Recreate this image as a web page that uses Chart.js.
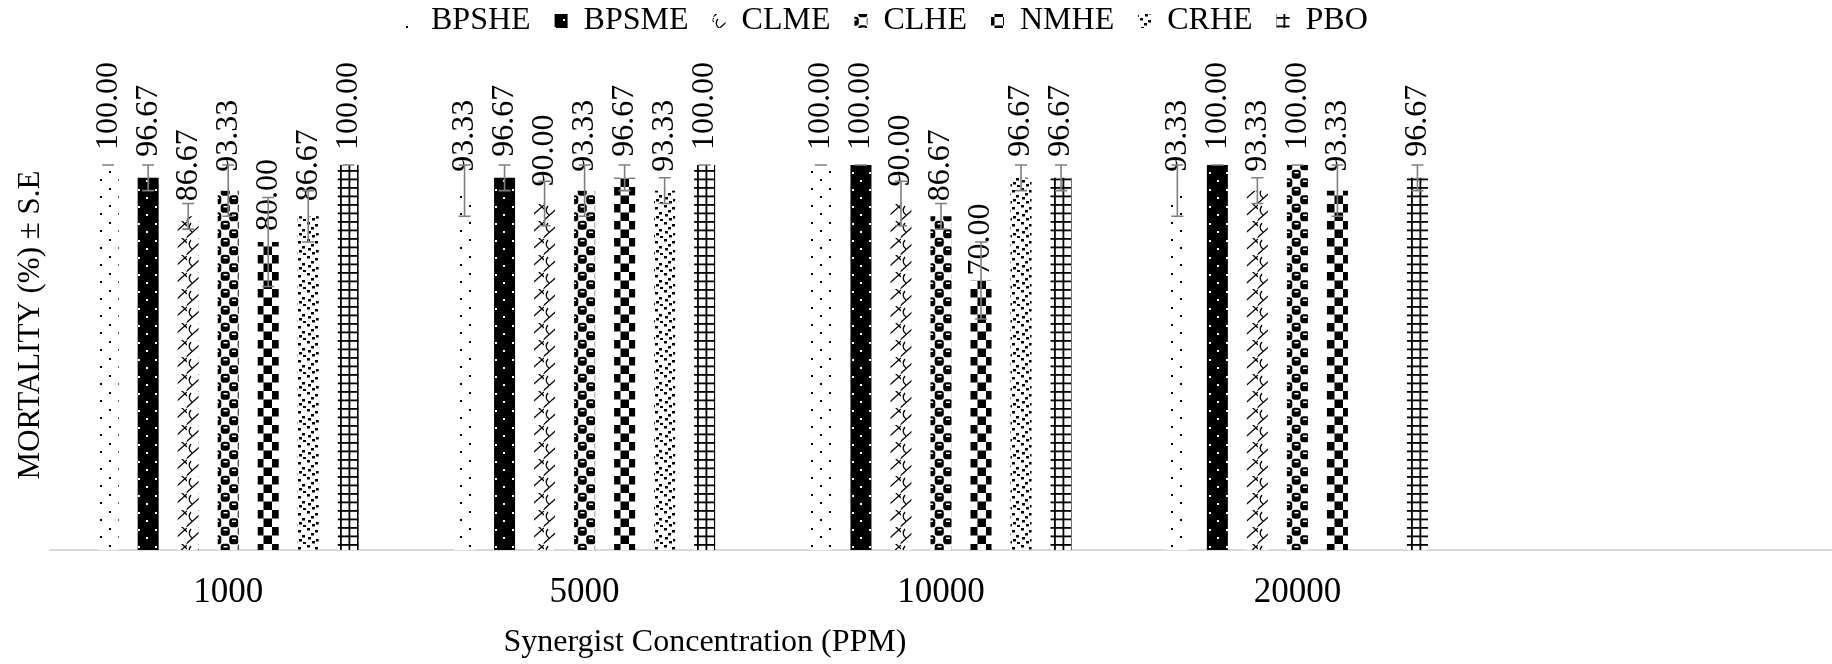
<!DOCTYPE html>
<html>
<head>
<meta charset="utf-8">
<title>Mortality by synergist concentration</title>
<script src="https://cdn.jsdelivr.net/npm/chart.js@4.4.1/dist/chart.umd.min.js"></script>
<style>
  html, body { margin: 0; padding: 0; background: #fff; }
  #wrap { position: relative; width: 1832px; height: 664px; }
</style>
</head>
<body>
<div id="wrap"><canvas id="chart" width="1832" height="664"></canvas></div>
<script>
// ---- data ----
const concentrations = ['1000', '5000', '10000', '20000', ''];
const seriesNames = ['BPSHE', 'BPSME', 'CLME', 'CLHE', 'NMHE', 'CRHE', 'PBO'];

// mean mortality (%)
const BPSHE = [100.00, 93.33, 100.00, 93.33, null];
const BPSME = [96.67, 96.67, 100.00, 100.00, null];
const CLME  = [86.67, 90.00, 90.00, 93.33, null];
const CLHE  = [93.33, 93.33, 86.67, 100.00, null];
const NMHE  = [80.00, 96.67, 70.00, 93.33, null];
const CRHE  = [86.67, 93.33, 96.67, null, null];
const PBO   = [100.00, 100.00, 96.67, 96.67, null];

// standard error of each mean
const BPSHE_SE = [0, 6.67, 0, 6.67, null];
const BPSME_SE = [3.33, 3.33, 0, 0, null];
const CLME_SE  = [3.33, 5.77, 5.77, 3.33, null];
const CLHE_SE  = [6.67, 6.67, 3.33, 0, null];
const NMHE_SE  = [11.55, 3.33, 10.00, 6.67, null];
const CRHE_SE  = [6.67, 3.33, 3.33, null, null];
const PBO_SE   = [0, 0, 3.33, 3.33, null];

const xTitle = 'Synergist Concentration (PPM)';
const yTitle = 'MORTALITY (%) \u00B1 S.E';

// ---- styling ----
const SERIF = "'Liberation Serif', 'Times New Roman', serif";
const Y_MAX = 125.7;
const canvas = document.getElementById('chart');
const ctx0 = canvas.getContext('2d');

function makePattern(w, h, bg, draw) {
  const c = document.createElement('canvas');
  c.width = w; c.height = h;
  const g = c.getContext('2d');
  g.fillStyle = bg; g.fillRect(0, 0, w, h);
  draw(g, w, h);
  return ctx0.createPattern(c, 'repeat');
}

// sparse dots on white
const dotsLight = makePattern(18, 17, '#fff', g => {
  g.fillStyle = '#000';
  g.fillRect(1, 1, 2, 2);
  g.fillRect(10, 9, 2, 2);
});
// white dots on black
const dotsDark = makePattern(17, 17, '#000', g => {
  g.fillStyle = '#fff';
  g.fillRect(2, 2, 2, 2);
  g.fillRect(10, 10, 2, 2);
});
// rope / shingle strokes
const rope = makePattern(17, 17, '#fff', g => {
  g.strokeStyle = '#000'; g.lineWidth = 1.3;
  g.beginPath(); g.moveTo(-1, 17); g.lineTo(17, 1); g.stroke();
  g.beginPath(); g.moveTo(16, 18); g.lineTo(18, 16); g.stroke();
  g.beginPath(); g.moveTo(11, -1); g.lineTo(17, 5); g.stroke();
  g.beginPath(); g.moveTo(-6, 16); g.lineTo(0, 22); g.stroke();
  g.beginPath(); g.moveTo(5, 11); g.quadraticCurveTo(0, 7, 4, 2); g.stroke();
});
// spheres on a checker
const spheres = makePattern(17, 17, '#fff', g => {
  g.fillStyle = '#000';
  const blob = (x, y) => {
    g.beginPath();
    g.roundRect(x - 0.3, y - 0.3, 9.1, 9.1, 3);
    g.fill();
  };
  blob(0, 0); blob(8.5, 8.5); blob(17, 17); blob(-8.5, 8.5); blob(8.5, -8.5);
  blob(17, 0); blob(0, 17);
  g.fillStyle = '#fff';
  g.fillRect(2.5, 2, 4, 1.5);
  g.fillRect(11, 10.5, 4, 1.5);
});
// large checker board
const checker = makePattern(17, 17, '#fff', g => {
  g.fillStyle = '#000';
  g.fillRect(0, 0, 8.5, 8.5);
  g.fillRect(8.5, 8.5, 8.5, 8.5);
});
// confetti
const confetti = makePattern(17, 17, '#fff', g => {
  g.fillStyle = '#000';
  [[1, 1], [9, 3], [5, 6], [13, 8], [2, 10], [10, 12], [6, 14], [14, 15]]
    .forEach(([x, y]) => g.fillRect(x, y, 3, 2.5));
});
// small grid
const grid = makePattern(17, 17, '#fff', g => {
  g.fillStyle = '#000';
  g.fillRect(0, 0, 1.8, 17); g.fillRect(8.5, 0, 1.8, 17);
  g.fillRect(0, 0, 17, 1.8); g.fillRect(0, 8.5, 17, 1.8);
});

const seriesValues = [BPSHE, BPSME, CLME, CLHE, NMHE, CRHE, PBO];
const seriesErrors = [BPSHE_SE, BPSME_SE, CLME_SE, CLHE_SE, NMHE_SE, CRHE_SE, PBO_SE];
const seriesFills = [dotsLight, dotsDark, rope, spheres, checker, confetti, grid];

const datasets = seriesNames.map((name, i) => ({
  label: name,
  data: seriesValues[i],
  errors: seriesErrors[i],
  backgroundColor: seriesFills[i],
  borderWidth: 0
}));

// ---- plugins ----
// place the legend row
const legendPlacement = {
  id: 'legendPlacement',
  afterLayout(chart) {
    const lg = chart.legend;
    if (!lg) return;
    const pad = lg.options.labels.padding;
    lg.left = 402 - pad;
    lg.top = -19;
  }
};

// rotated value labels, then standard-error whiskers
const barAnnotations = {
  id: 'barAnnotations',
  afterDatasetsDraw(chart) {
    const { ctx } = chart;
    const yScale = chart.scales.y;
    chart.data.datasets.forEach((ds, di) => {
      const meta = chart.getDatasetMeta(di);
      meta.data.forEach((bar, i) => {
        const v = ds.data[i];
        if (v == null) return;
        ctx.save();
        ctx.translate(bar.x, bar.y - 59 + (100 - v) * 0.6);
        ctx.rotate(-Math.PI / 2);
        ctx.font = '32px ' + SERIF;
        ctx.fillStyle = '#000';
        ctx.textAlign = 'center';
        ctx.textBaseline = 'middle';
        ctx.fillText(v.toFixed(2), 0, 0);
        ctx.restore();
      });
    });
    ctx.save();
    ctx.strokeStyle = '#7f7f7f';
    ctx.lineWidth = 1.6;
    chart.data.datasets.forEach((ds, di) => {
      const meta = chart.getDatasetMeta(di);
      meta.data.forEach((bar, i) => {
        const v = ds.data[i], se = ds.errors[i];
        if (v == null || se == null) return;
        const hi = yScale.getPixelForValue(v + se);
        const lo = yScale.getPixelForValue(v - se);
        ctx.beginPath();
        ctx.moveTo(bar.x, hi); ctx.lineTo(bar.x, lo);
        ctx.moveTo(bar.x - 6, hi); ctx.lineTo(bar.x + 6, hi);
        ctx.moveTo(bar.x - 6, lo); ctx.lineTo(bar.x + 6, lo);
        ctx.stroke();
      });
    });
    ctx.restore();
  }
};

// axis titles
const axisTitles = {
  id: 'axisTitles',
  afterDraw(chart) {
    const { ctx } = chart;
    ctx.save();
    ctx.fillStyle = '#000';
    ctx.textAlign = 'center';
    ctx.textBaseline = 'middle';
    ctx.font = '32px ' + SERIF;
    ctx.fillText(xTitle, 705, 643);
    ctx.translate(31, 325);
    ctx.rotate(-Math.PI / 2);
    ctx.font = '31px ' + SERIF;
    ctx.fillText(yTitle, 0, 0);
    ctx.restore();
  }
};

Chart.defaults.font.family = SERIF;
Chart.defaults.color = '#000';

new Chart(canvas, {
  type: 'bar',
  data: { labels: concentrations, datasets },
  options: {
    responsive: false,
    animation: false,
    layout: { padding: { left: 50, right: 0, top: 0, bottom: 0 } },
    datasets: { bar: { categoryPercentage: 0.786, barPercentage: 0.525 } },
    scales: {
      x: {
        grid: { display: false, drawTicks: false },
        border: { display: true, color: '#d9d9d9', width: 2 },
        ticks: { font: { family: SERIF, size: 35 }, color: '#000', padding: 22, maxRotation: 0, autoSkip: false },
        afterFit(scale) { scale.height = 114; }
      },
      y: { display: false, min: 0, max: Y_MAX }
    },
    plugins: {
      legend: {
        position: 'top',
        align: 'start',
        labels: {
          font: { family: SERIF, size: 32 },
          color: '#000',
          boxWidth: 13,
          boxHeight: 14,
          padding: 24
        }
      },
      tooltip: { enabled: false },
      title: { display: false }
    }
  },
  plugins: [legendPlacement, barAnnotations, axisTitles]
});
</script>
</body>
</html>
